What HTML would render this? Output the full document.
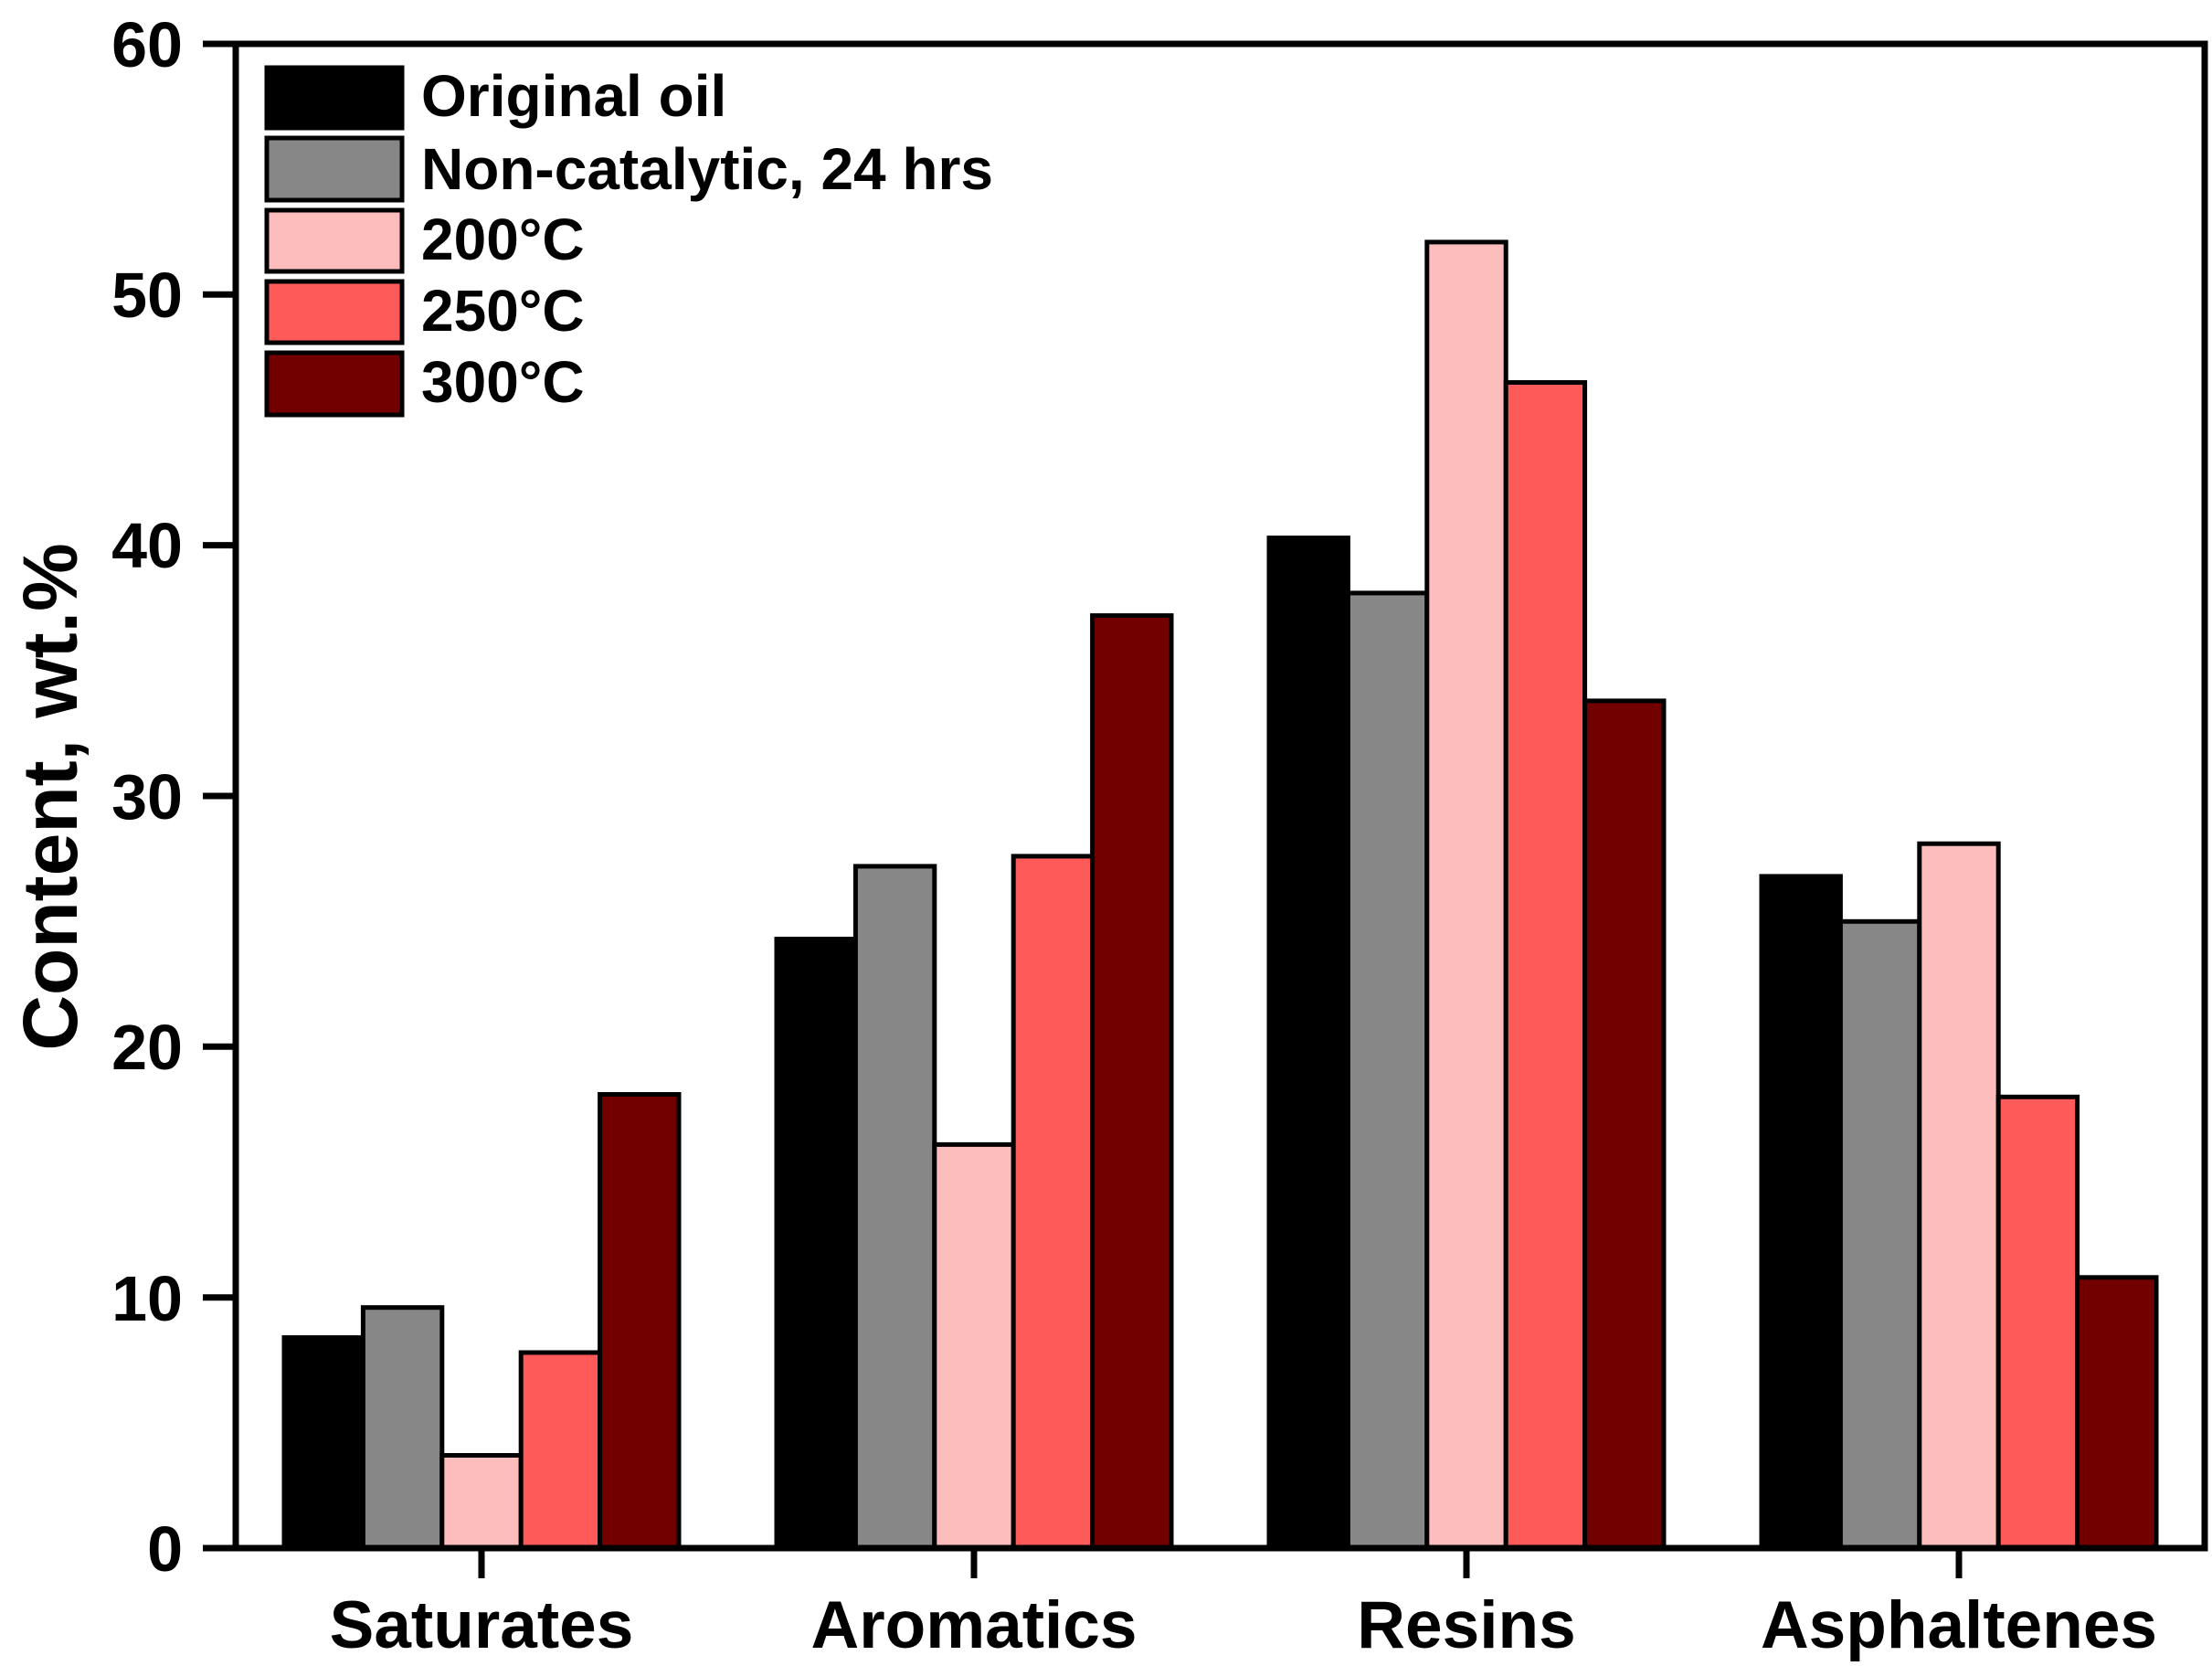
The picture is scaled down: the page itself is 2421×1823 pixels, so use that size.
<!DOCTYPE html>
<html><head><meta charset="utf-8"><style>html,body{margin:0;padding:0;background:#fff}svg{display:block}</style></head>
<body>
<svg width="2421" height="1823" viewBox="0 0 2421 1823" xmlns="http://www.w3.org/2000/svg" font-family="Liberation Sans, Arial, sans-serif" font-weight="bold">
<rect width="2421" height="1823" fill="#fff"/>
<g stroke="#000" stroke-width="5">
<rect x="311" y="1463.6" width="86.4" height="230.4" fill="#000000"/>
<rect x="397.4" y="1430.7" width="86.4" height="263.3" fill="#878787"/>
<rect x="483.8" y="1592.5" width="86.4" height="101.5" fill="#FDBDBD"/>
<rect x="570.2" y="1480" width="86.4" height="214" fill="#FF5A5A"/>
<rect x="656.6" y="1197.5" width="86.4" height="496.5" fill="#730000"/>

<rect x="850" y="1027.5" width="86.4" height="666.5" fill="#000000"/>
<rect x="936.4" y="947.9" width="86.4" height="746.1" fill="#878787"/>
<rect x="1022.8" y="1252.4" width="86.4" height="441.6" fill="#FDBDBD"/>
<rect x="1109.2" y="936.9" width="86.4" height="757.1" fill="#FF5A5A"/>
<rect x="1195.6" y="673.6" width="86.4" height="1020.4" fill="#730000"/>

<rect x="1389" y="588.6" width="86.4" height="1105.4" fill="#000000"/>
<rect x="1475.4" y="648.9" width="86.4" height="1045.1" fill="#878787"/>
<rect x="1561.8" y="264.9" width="86.4" height="1429.1" fill="#FDBDBD"/>
<rect x="1648.2" y="418.5" width="86.4" height="1275.5" fill="#FF5A5A"/>
<rect x="1734.6" y="766.9" width="86.4" height="927.1" fill="#730000"/>

<rect x="1928" y="958.9" width="86.4" height="735.1" fill="#000000"/>
<rect x="2014.4" y="1008.3" width="86.4" height="685.7" fill="#878787"/>
<rect x="2100.8" y="923.2" width="86.4" height="770.8" fill="#FDBDBD"/>
<rect x="2187.2" y="1200.3" width="86.4" height="493.7" fill="#FF5A5A"/>
<rect x="2273.6" y="1397.8" width="86.4" height="296.2" fill="#730000"/>
</g>
<!-- frame -->
<rect x="258" y="48" width="2155" height="1646" fill="none" stroke="#000" stroke-width="7"/>
<g stroke="#000" stroke-width="7">
<line x1="222" y1="48" x2="258" y2="48"/>
<line x1="222" y1="322.3" x2="258" y2="322.3"/>
<line x1="222" y1="596.6" x2="258" y2="596.6"/>
<line x1="222" y1="871" x2="258" y2="871"/>
<line x1="222" y1="1145.3" x2="258" y2="1145.3"/>
<line x1="222" y1="1419.7" x2="258" y2="1419.7"/>
<line x1="222" y1="1694" x2="258" y2="1694"/>
<line x1="527" y1="1694" x2="527" y2="1727"/>
<line x1="1066" y1="1694" x2="1066" y2="1727"/>
<line x1="1605" y1="1694" x2="1605" y2="1727"/>
<line x1="2144" y1="1694" x2="2144" y2="1727"/>
</g>
<g font-size="70" text-anchor="end" fill="#000">
<text x="200" y="73">60</text>
<text x="200" y="347">50</text>
<text x="200" y="621">40</text>
<text x="200" y="896">30</text>
<text x="200" y="1170">20</text>
<text x="200" y="1445">10</text>
<text x="200" y="1719">0</text>
</g>
<g font-size="73" text-anchor="middle" fill="#000">
<text x="527" y="1803">Saturates</text>
<text x="1066" y="1803">Aromatics</text>
<text x="1605" y="1803">Resins</text>
<text x="2144" y="1803">Asphaltenes</text>
</g>
<text transform="translate(84,872) rotate(-90)" font-size="84" text-anchor="middle" fill="#000">Content, wt.%</text>
<g stroke="#000" stroke-width="5">
<rect x="292" y="74" width="148" height="66" fill="#000000"/>
<rect x="292" y="151" width="148" height="68" fill="#878787"/>
<rect x="292" y="230" width="148" height="67" fill="#FDBDBD"/>
<rect x="292" y="308" width="148" height="67" fill="#FF5A5A"/>
<rect x="292" y="386" width="148" height="68" fill="#730000"/>
</g>
<g font-size="64" fill="#000">
<text x="461" y="127">Original oil</text>
<text x="461" y="207">Non-catalytic, 24 hrs</text>
<text x="461" y="284">200°C</text>
<text x="461" y="362">250°C</text>
<text x="461" y="440">300°C</text>
</g>
</svg>
</body></html>
